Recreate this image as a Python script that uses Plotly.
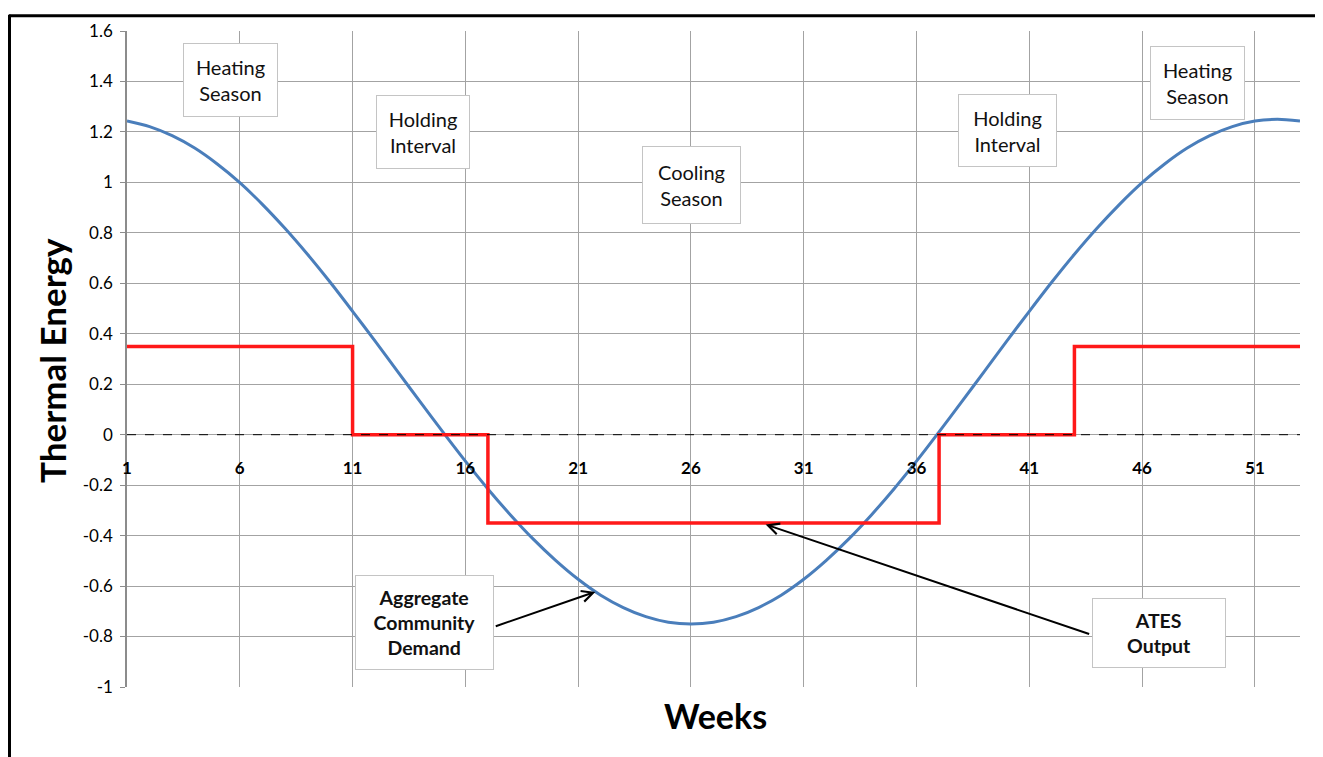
import plotly.graph_objects as go

# ---- data ----
weeks = list(range(1, 54))
demand = [1.243, 1.221, 1.185, 1.136, 1.073, 0.999, 0.913, 0.818, 0.715, 0.605,
          0.489, 0.371, 0.250, 0.130, 0.011, -0.105, -0.215, -0.318, -0.413, -0.498,
          -0.573, -0.636, -0.685, -0.721, -0.743, -0.750, -0.743, -0.721, -0.685, -0.636,
          -0.573, -0.498, -0.413, -0.318, -0.215, -0.105, 0.011, 0.130, 0.250, 0.371,
          0.489, 0.605, 0.715, 0.818, 0.913, 0.999, 1.073, 1.136, 1.185, 1.221,
          1.243, 1.250, 1.243]
ates_weeks = [1, 11, 17, 37, 43, 53.1]
ates_values = [0.35, 0.0, -0.35, 0.0, 0.35, 0.35]

x_tickvals = [1, 6, 11, 16, 21, 26, 31, 36, 41, 46, 51]
x_ticktext = [str(v) for v in x_tickvals]
y_tickvals = [1.6, 1.4, 1.2, 1.0, 0.8, 0.6, 0.4, 0.2, 0.0, -0.2, -0.4, -0.6, -0.8, -1.0]
y_ticktext = ["1.6", "1.4", "1.2", "1", "0.8", "0.6", "0.4", "0.2", "0",
              "-0.2", "-0.4", "-0.6", "-0.8", "-1"]

season_labels = ["Heating<br>Season", "Holding<br>Interval", "Cooling<br>Season",
                 "Holding<br>Interval", "Heating<br>Season"]
season_x = [5.61, 14.13, 26.02, 40.04, 48.47]
season_y = [1.404, 1.20, 0.991, 1.207, 1.392]
season_w = [93, 92, 97, 97, 93]
season_h = [72, 72, 76, 71, 72]

Y_MIN, Y_MAX = -1.0, 1.6
X_MIN, X_MAX = 1, 53

FONT = "Lato"
GRID = "#a3a3a3"

fig = go.Figure()

fig.add_trace(go.Scatter(
    x=weeks, y=demand, mode="lines", name="Aggregate Community Demand",
    line=dict(color="#4a7ebb", width=3, shape="spline", smoothing=0.8),
    showlegend=False, cliponaxis=False))

fig.add_trace(go.Scatter(
    x=ates_weeks, y=ates_values, mode="lines", name="ATES Output",
    line=dict(color="rgb(255,25,25)", width=3.5, shape="hv"),
    showlegend=False, cliponaxis=False))

annotations = []
for t, x, y, w, h in zip(season_labels, season_x, season_y, season_w, season_h):
    annotations.append(dict(
        x=x, y=y, xref="x", yref="y", text=t, showarrow=False,
        font=dict(family=FONT, size=20, color="#111"),
        bgcolor="white", bordercolor="#c4c4c4", borderwidth=1, borderpad=0,
        width=w, height=h, align="center"))

# callout boxes
annotations.append(dict(
    x=14.18, y=-0.745, xref="x", yref="y",
    text="<b>Aggregate<br>Community<br>Demand</b>", showarrow=False,
    font=dict(family=FONT, size=19.5, color="#111"),
    bgcolor="white", bordercolor="#c4c4c4", borderwidth=1, borderpad=0,
    width=137, height=93))
annotations.append(dict(
    x=46.74, y=-0.784, xref="x", yref="y",
    text="<b>ATES<br>Output</b>", showarrow=False,
    font=dict(family=FONT, size=19.5, color="#111"),
    bgcolor="white", bordercolor="#c4c4c4", borderwidth=1, borderpad=0,
    width=132, height=68))

# arrows
annotations.append(dict(
    x=21.76, y=-0.623, xref="x", yref="y", ax=17.28, ay=-0.761,
    axref="x", ayref="y", text="", showarrow=True,
    arrowhead=5, arrowsize=1.1, arrowwidth=2, arrowcolor="black", standoff=0))
annotations.append(dict(
    x=29.31, y=-0.356, xref="x", yref="y", ax=43.72, ay=-0.792,
    axref="x", ayref="y", text="", showarrow=True,
    arrowhead=5, arrowsize=1.1, arrowwidth=2, arrowcolor="black", standoff=0))

# axis titles
annotations.append(dict(
    x=-0.064, y=0.4985, xref="paper", yref="paper", text="<b>Thermal Energy</b>",
    textangle=-90, showarrow=False, font=dict(family=FONT, size=35, color="black"),
    xanchor="center", yanchor="middle"))
annotations.append(dict(
    x=0.502, y=-0.0438, xref="paper", yref="paper", text="<b>Weeks</b>",
    showarrow=False, font=dict(family=FONT, size=34, color="black"),
    xanchor="center", yanchor="middle"))

# the page adds an 8px body margin, so the figure is 8px smaller and shifted
PLOT_L, PLOT_R, PLOT_T, PLOT_B = 119, 23, 17, 70
FIG_W, FIG_H = 1315, 749
plot_w = FIG_W - PLOT_L - PLOT_R
plot_h = FIG_H - PLOT_T - PLOT_B

shapes = [
    # dashed zero line
    dict(type="line", xref="x domain", yref="y", x0=0, x1=1, y0=0, y1=0,
         line=dict(color="black", width=1, dash="dash"), layer="above"),
    # outer black frame (top and left edges of the page frame)
    dict(type="line", xref="paper", yref="paper",
         x0=-(PLOT_L - 1) / plot_w, x1=(plot_w + PLOT_R + 5) / plot_w,
         y0=1 + (PLOT_T - 1.5) / plot_h, y1=1 + (PLOT_T - 1.5) / plot_h,
         line=dict(color="black", width=3), layer="above"),
    dict(type="line", xref="paper", yref="paper",
         x0=-(PLOT_L - 1.5) / plot_w, x1=-(PLOT_L - 1.5) / plot_w,
         y0=-(PLOT_B + 10) / plot_h, y1=1 + (PLOT_T - 0.5) / plot_h,
         line=dict(color="black", width=3), layer="above"),
]

zero_pos = (0 - Y_MIN) / (Y_MAX - Y_MIN)

fig.update_layout(
    width=FIG_W, height=FIG_H,
    margin=dict(l=PLOT_L, r=PLOT_R, t=PLOT_T, b=PLOT_B),
    paper_bgcolor="white", plot_bgcolor="white",
    font=dict(family=FONT, color="black"),
    annotations=annotations, shapes=shapes,
    xaxis=dict(
        range=[X_MIN, X_MAX], tickmode="array", tickvals=x_tickvals, ticktext=x_ticktext,
        showgrid=True, gridcolor=GRID, gridwidth=1, zeroline=False, showline=False,
        anchor="free", position=zero_pos, ticks="", ticklabelstandoff=21,
        tickfont=dict(family=FONT, size=17, color="black", weight="bold")),
    yaxis=dict(
        range=[Y_MIN, Y_MAX], tickmode="array", tickvals=y_tickvals, ticktext=y_ticktext,
        showgrid=True, gridcolor=GRID, gridwidth=1, zeroline=False,
        showline=True, linecolor="#8c8c8c", linewidth=1.5,
        ticks="outside", ticklen=5, tickcolor="#8c8c8c", ticklabelstandoff=4,
        tickfont=dict(family=FONT, size=17, color="black")),
)

fig.write_html("out.html")
